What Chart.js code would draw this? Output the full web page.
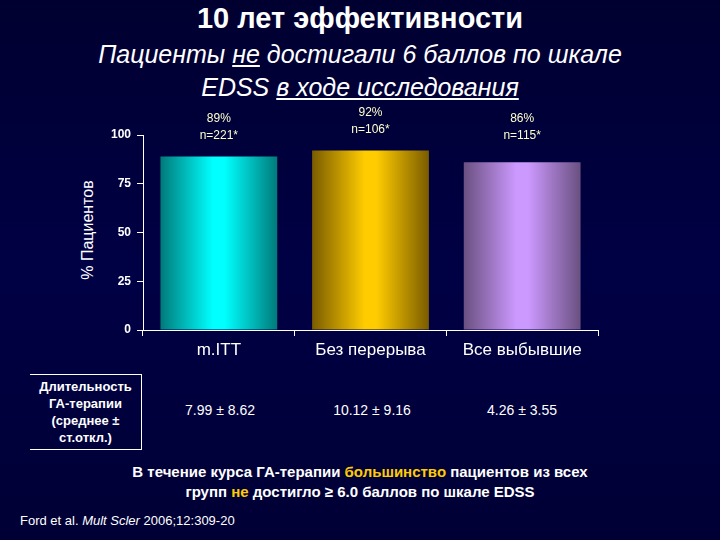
<!DOCTYPE html>
<html>
<head>
<meta charset="utf-8">
<script src="https://cdn.jsdelivr.net/npm/chart.js@4"></script>
<style>
  body { margin: 0; width: 720px; height: 540px; background: linear-gradient(#000030, #000045 50%, #000035); font-family: Arial, "Liberation Sans", sans-serif; color: #fff; overflow: hidden; position: relative; }
  .abs { position: absolute; }
  #title { top: 2px; left: 0; width: 720px; text-align: center; font-size: 29px; font-weight: bold; }
  #sub { top: 38px; left: 0; width: 720px; text-align: center; font-size: 25px; font-style: italic; line-height: 33px; }
  #ytitle { left: 88px; top: 230px; transform: translate(-50%, -50%) rotate(-90deg); font-size: 16px; white-space: nowrap; }
  #box { left: 30px; top: 374px; width: 112px; height: 76px; border: 1px solid #fff; border-left: none; font-size: 13px; font-weight: bold; text-align: center; line-height: 17px; box-sizing: border-box; padding-top: 3px; }
  .val { top: 402px; font-size: 14px; width: 150px; text-align: center; }
  #note { top: 462px; left: 0; width: 720px; text-align: center; font-size: 15px; font-weight: bold; line-height: 20px; }
  .y { color: #ffcc00; }
  #cite { left: 20px; top: 513px; font-size: 13px; }
  canvas { position: absolute; left: 0; top: 0; }
</style>
</head>
<body>
<div class="abs" id="title">10 лет эффективности</div>
<div class="abs" id="sub">Пациенты <u>не</u> достигали 6 баллов по шкале<br>EDSS <u>в ходе исследования</u></div>
<div class="abs" id="ytitle">% Пациентов</div>
<div class="abs" id="box">Длительность ГА-терапии (среднее ± ст.откл.)</div>
<div class="abs val" style="left:145px">7.99 ± 8.62</div>
<div class="abs val" style="left:297px">10.12 ± 9.16</div>
<div class="abs val" style="left:447px">4.26 ± 3.55</div>
<div class="abs" id="note">В течение курса ГА-терапии <span class="y">большинство</span> пациентов из всех<br>групп <span class="y">не</span> достигло ≥ 6.0 баллов по шкале EDSS</div>
<div class="abs" id="cite">Ford et al. <i>Mult Scler</i> 2006;12:309-20</div>
<canvas id="c" width="720" height="540"></canvas>
<script>
const categories = ['m.ITT', 'Без перерыва', 'Все выбывшие'];
const values = [89, 92, 86];
const pctLabels = ['89%', '92%', '86%'];
const nLabels = ['n=221*', 'n=106*', 'n=115*'];
const yTicks = [0, 25, 50, 75, 100];
const barColors = [['#007a7a', '#00ffff'], ['#7a5c00', '#ffcc00'], ['#6a5080', '#cc99ff']];

function barFill(ctx) {
  const chart = ctx.chart;
  const x = chart.scales.x;
  if (!x || !chart.chartArea) return barColors[ctx.dataIndex][1];
  const cx = x.getPixelForValue(ctx.dataIndex);
  const half = x.width / categories.length * 0.77 / 2;
  const g = chart.ctx.createLinearGradient(cx - half, 0, cx + half, 0);
  const c = barColors[ctx.dataIndex];
  g.addColorStop(0, c[0]);
  g.addColorStop(0.45, c[1]);
  g.addColorStop(0.55, c[1]);
  g.addColorStop(1, c[0]);
  return g;
}

const topLabels = {
  id: 'topLabels',
  afterDatasetsDraw(chart) {
    const ctx = chart.ctx;
    const meta = chart.getDatasetMeta(0);
    ctx.save();
    ctx.fillStyle = '#ffffcc';
    ctx.font = '12px Arial';
    ctx.textAlign = 'center';
    meta.data.forEach((bar, i) => {
      const off = i === 1 ? 6 : 0;
      ctx.fillText(pctLabels[i], bar.x, 122 - off);
      ctx.fillText(nLabels[i], bar.x, 139 - off);
    });
    ctx.restore();
  }
};

new Chart(document.getElementById('c'), {
  type: 'bar',
  data: {
    labels: categories,
    datasets: [{ data: values, backgroundColor: barFill, barPercentage: 0.77, categoryPercentage: 1 }]
  },
  options: {
    responsive: false,
    animation: false,
    layout: { padding: { left: 103, top: 135, right: 122, bottom: 170 } },
    plugins: { legend: { display: false }, tooltip: { enabled: false } },
    scales: {
      x: {
        afterFit: s => { s.height = 40; },
        grid: { display: true, drawOnChartArea: false, color: '#fff', tickLength: 6 },
        border: { color: '#fff' },
        ticks: { color: '#fff', font: { size: 17, family: 'Arial' }, padding: 4 }
      },
      y: {
        min: 0, max: 100,
        afterFit: s => { s.width = 40; },
        afterBuildTicks: s => { s.ticks = yTicks.map(v => ({ value: v })); },
        grid: { display: true, drawOnChartArea: false, color: '#fff', tickLength: 6 },
        border: { color: '#fff' },
        ticks: { color: '#fff', font: { size: 12, weight: 'bold', family: 'Arial' }, padding: 6 }
      }
    }
  },
  plugins: [topLabels]
});
</script>
</body>
</html>
